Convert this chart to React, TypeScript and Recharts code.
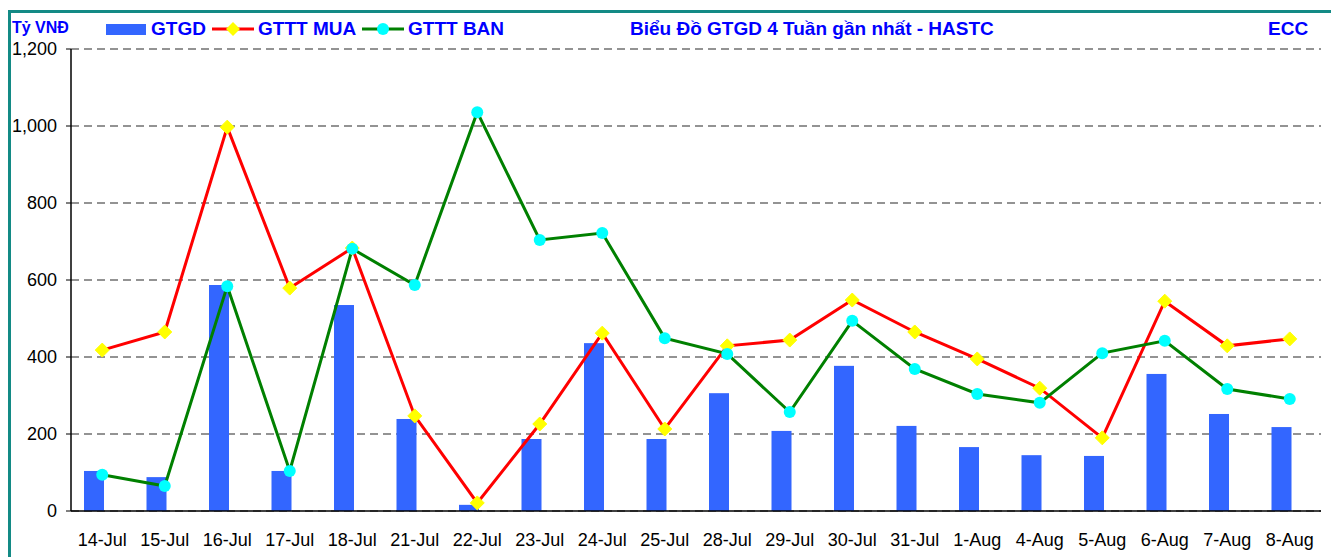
import { ComposedChart, Bar, Line, XAxis, YAxis, CartesianGrid } from "recharts";

const days = [
  "14-Jul", "15-Jul", "16-Jul", "17-Jul", "18-Jul", "21-Jul", "22-Jul", "23-Jul", "24-Jul", "25-Jul",
  "28-Jul", "29-Jul", "30-Jul", "31-Jul", "1-Aug", "4-Aug", "5-Aug", "6-Aug", "7-Aug", "8-Aug",
];
const gtgd = [104, 88, 587, 104, 535, 239, 16, 187, 436, 187, 306, 208, 377, 221, 166, 145, 143, 356, 252, 218];
const gtttMua = [418, 465, 997, 579, 683, 247, 21, 226, 462, 213, 429, 444, 548, 465, 395, 319, 190, 545, 429, 447];
const gtttBan = [94, 65, 584, 104, 681, 587, 1036, 704, 722, 449, 408, 257, 494, 369, 304, 281, 410, 442, 317, 291];
const yTicks = [0, 200, 400, 600, 800, 1000, 1200];

const data = days.map((day, i) => ({ day, gtgd: gtgd[i], mua: gtttMua[i], ban: gtttBan[i] }));

const FONT = '"Liberation Sans", Arial, sans-serif';
const BLUE = "#0000FF";

if (typeof document !== "undefined") {
  document.documentElement.style.overflow = "hidden";
}

const Diamond = (props: any) => {
  const { cx, cy } = props;
  if (cx == null || cy == null) return null;
  return <path d={`M${cx},${cy - 7} L${cx + 7},${cy} L${cx},${cy + 7} L${cx - 7},${cy} Z`} fill="#FFFF00" stroke="#FFFF00" />;
};

const Dot = (props: any) => {
  const { cx, cy } = props;
  if (cx == null || cy == null) return null;
  return <circle cx={cx} cy={cy} r={6} fill="#00FFFF" />;
};

// Excel draws the bars a little left of the category centre
const ShiftedBar = (props: any) => {
  const { x, y, width, height } = props;
  return <rect x={x - 8} y={y} width={width} height={height} fill="#3366FF" />;
};

const label = (left: number, top: number, size: number, text: string) => (
  <div
    style={{
      position: "absolute",
      left,
      top,
      fontFamily: FONT,
      fontWeight: "bold",
      fontSize: size,
      lineHeight: "22px",
      color: BLUE,
      whiteSpace: "nowrap",
    }}
  >
    {text}
  </div>
);

export default function App() {
  return (
    <div style={{ position: "relative", width: 1326, height: 549 }}>
      <div
        style={{
          position: "absolute",
          left: 0,
          top: 2,
          width: 1326,
          height: 560,
          border: "3px solid #138a85",
          boxSizing: "border-box",
        }}
      />
      <div style={{ position: "absolute", left: 0, top: 0 }}>
        <ComposedChart
          width={1320}
          height={549}
          data={data}
          margin={{ top: 41, right: 7, bottom: 6, left: 0 }}
        >
          <CartesianGrid vertical={false} stroke="#707070" strokeWidth={1.5} strokeDasharray="8 5" />
          <XAxis
            dataKey="day"
            axisLine={{ stroke: "#000", strokeWidth: 1.5 }}
            tickLine={false}
            tickSize={0}
            tickMargin={22}
            height={40}
            interval={0}
            tick={{ fontSize: 18, fill: "#000", fontFamily: FONT }}
          />
          <YAxis
            domain={[0, 1200]}
            ticks={yTicks}
            width={63}
            axisLine={{ stroke: "#000", strokeWidth: 1.5 }}
            tickLine={{ stroke: "#000" }}
            tickSize={5}
            tickMargin={9}
            tickFormatter={(v: number) => v.toLocaleString("en-US")}
            tick={{ fontSize: 18, fill: "#000", fontFamily: FONT }}
          />
          <Bar dataKey="gtgd" barSize={20} fill="#3366FF" shape={ShiftedBar} isAnimationActive={false} />
          <Line dataKey="mua" stroke="#FF0000" strokeWidth={3} dot={Diamond} activeDot={false} isAnimationActive={false} />
          <Line dataKey="ban" stroke="#008000" strokeWidth={3} dot={Dot} activeDot={false} isAnimationActive={false} />
        </ComposedChart>
      </div>

      <div
        style={{
          position: "absolute",
          left: 4,
          top: 10,
          fontFamily: FONT,
          fontWeight: "bold",
          fontSize: 16,
          lineHeight: "20px",
          color: BLUE,
        }}
      >
        Tỷ VNĐ
      </div>

      <div style={{ position: "absolute", left: 98, top: 16, width: 40, height: 11, background: "#3366FF" }} />
      {label(143, 10, 19, "GTGD")}

      <svg style={{ position: "absolute", left: 204, top: 11 }} width={42} height={20}>
        <line x1={0} y1={10} x2={42} y2={10} stroke="#FF0000" strokeWidth={3} />
        <path d="M21,3 L28,10 L21,17 L14,10 Z" fill="#FFFF00" />
      </svg>
      {label(250, 10, 19, "GTTT MUA")}

      <svg style={{ position: "absolute", left: 354, top: 11 }} width={42} height={20}>
        <line x1={0} y1={10} x2={42} y2={10} stroke="#008000" strokeWidth={3} />
        <circle cx={21} cy={10} r={6} fill="#00FFFF" />
      </svg>
      {label(400, 10, 19, "GTTT BAN")}

      {label(622, 10, 19, "Biểu Đồ GTGD 4 Tuần gần nhất - HASTC")}
      {label(1260, 10, 19, "ECC")}
    </div>
  );
}
